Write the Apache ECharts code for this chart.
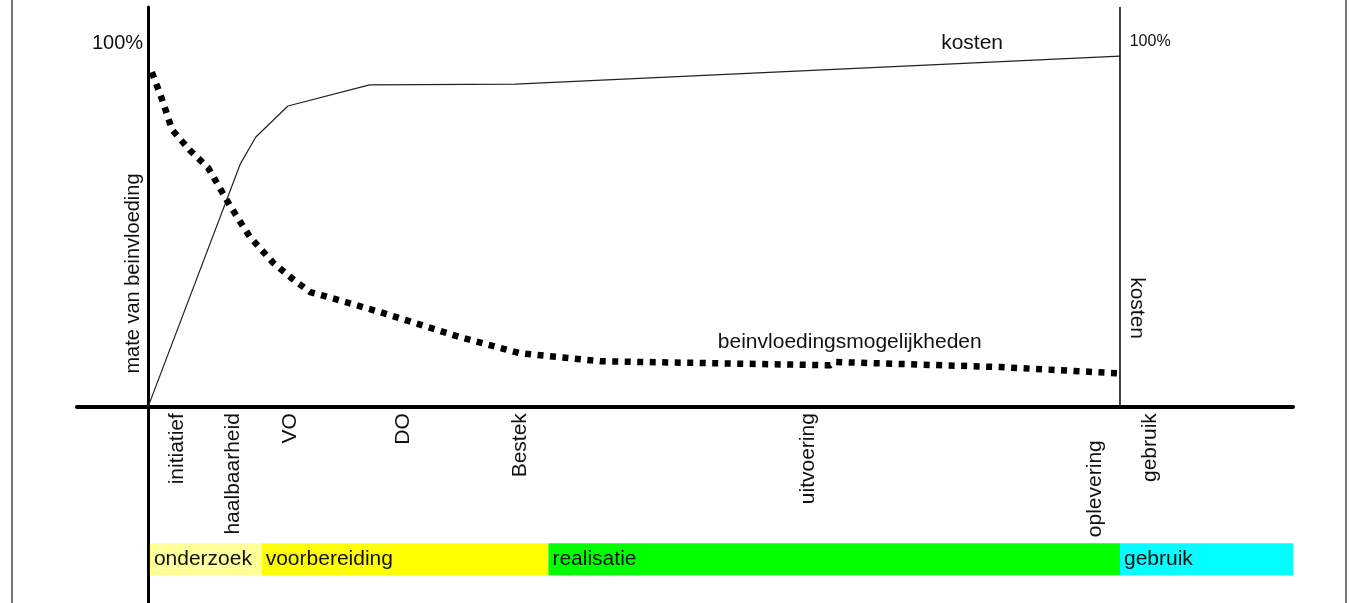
<!DOCTYPE html>
<html><head><meta charset="utf-8">
<script src="https://cdn.jsdelivr.net/npm/echarts@6/dist/echarts.min.js"></script>
<style>html,body{margin:0;padding:0;background:#fff}#c{width:1350px;height:603px}</style>
</head><body><div id="c"></div>
<script>
// ---- data (x: project progress, 0 = start, 100 = gebruik; y: percent) ----
const milestones = ['initiatief','haalbaarheid','VO','DO','Bestek','uitvoering','oplevering','gebruik'];
const milestoneX = [3.0, 8.8, 14.6, 26.3, 38.3, 67.9, 97.4, 103.1];
const costX = [0, 9.5, 11.1, 14.4, 22.8, 37.8, 100];
const costY = [0, 66.8, 74.2, 82.7, 88.5, 88.7, 96.4];
const influenceX = [0.4, 1.4, 2.5, 4.3, 6.2, 8.4, 10.5, 12.9, 15.3, 16.7, 19.0, 23.9, 32.1, 38.3, 46.5, 70.2, 70.7, 87.7, 99.7];
const influenceY = [92.0, 84.9, 76.1, 70.6, 65.7, 55.5, 46.7, 39.6, 34.3, 31.6, 29.9, 26.1, 19.2, 14.8, 12.6, 11.5, 12.4, 11.0, 9.3];
const phases = ['onderzoek','voorbereiding','realisatie','gebruik'];
const phaseStart = [0.2, 11.7, 41.2, 100];
const phaseEnd = [11.7, 41.2, 100, 117.8];

// ---- layout / style ----
const FONT = '"Liberation Sans", Arial, sans-serif';
const phaseColors = ['#FFFF99', '#FFFF00', '#00FF00', '#00FFFF'];
const BAR_TOP = -37.4, BAR_BOTTOM = -46.2;
const labelTop = [-1.65, -1.65, -1.65, -1.65, -1.65, -1.65, -9.1, -1.65];

function textSeries(items) {
  return {
    type: 'custom', z: 10, silent: true, clip: false,
    data: items.map(it => [it.x, it.y]),
    renderItem: function (params, api) {
      const it = items[params.dataIndex];
      const p = api.coord([api.value(0), api.value(1)]);
      return {
        type: 'text', x: p[0], y: p[1], rotation: it.rot || 0,
        style: {
          text: it.text, align: it.align || 'left', verticalAlign: it.va || 'middle',
          fill: '#111', font: (it.size || 21) + 'px ' + FONT
        }
      };
    }
  };
}

const annotations = [
  {text: '100%', x: -0.5, y: 100, align: 'right', size: 20},
  {text: '100%', x: 101.0, y: 100.3, align: 'left', size: 16},
  {text: 'kosten', x: 81.6, y: 100, align: 'left'},
  {text: 'beinvloedingsmogelijkheden', x: 72.2, y: 17.9, align: 'center'},
  {text: 'mate van beinvloeding', x: -1.5, y: 36.7, align: 'center', rot: Math.PI / 2, size: 20},
  {text: 'kosten', x: 101.7, y: 27.2, align: 'center', rot: -Math.PI / 2}
];
const milestoneItems = milestones.map((m, i) => ({
  text: m, x: milestoneX[i], y: labelTop[i], align: 'right', rot: Math.PI / 2
}));

const chart = echarts.init(document.getElementById('c'));
chart.setOption({
  animation: false,
  backgroundColor: '#fff',
  grid: {left: 77, right: 57, top: 7, bottom: 0, containLabel: false},
  xAxis: {
    type: 'value', min: -7.3, max: 117.8,
    axisLine: {show: true, onZero: true, lineStyle: {color: '#000', width: 4}},
    axisTick: {show: false}, axisLabel: {show: false}, splitLine: {show: false}
  },
  yAxis: {
    type: 'value', min: -53.8, max: 109.9,
    axisLine: {show: true, onZero: true, lineStyle: {color: '#000', width: 3}},
    axisTick: {show: false}, axisLabel: {show: false}, splitLine: {show: false}
  },
  graphic: [
    {type: 'line', shape: {x1: 12, y1: 0, x2: 12, y2: 603}, style: {stroke: '#444', lineWidth: 1.5}},
    {type: 'line', shape: {x1: 1346, y1: 0, x2: 1346, y2: 603}, style: {stroke: '#444', lineWidth: 1.5}}
  ],
  series: [
    {
      type: 'custom', z: 1, silent: true, clip: false,
      data: phases.map((p, i) => [phaseStart[i], phaseEnd[i], BAR_TOP, BAR_BOTTOM]),
      renderItem: function (params, api) {
        const a = api.coord([api.value(0), api.value(2)]);
        const b = api.coord([api.value(1), api.value(3)]);
        return {
          type: 'group', children: [
            {type: 'rect', shape: {x: a[0], y: a[1], width: b[0] - a[0], height: b[1] - a[1]},
             style: {fill: phaseColors[params.dataIndex]}},
            {type: 'text', x: a[0] + 4, y: (a[1] + b[1]) / 2,
             style: {text: phases[params.dataIndex], align: 'left', verticalAlign: 'middle',
                     fill: '#111', font: '21px ' + FONT}}
          ]
        };
      }
    },
    {
      type: 'line', name: 'kosten', z: 3, silent: true, symbol: 'none',
      data: costX.map((x, i) => [x, costY[i]]),
      lineStyle: {color: '#222', width: 1.2}
    },
    {
      type: 'line', name: 'beinvloedingsmogelijkheden', z: 4, silent: true, symbol: 'none',
      data: influenceX.map((x, i) => [x, influenceY[i]]),
      lineStyle: {color: '#000', width: 6.5, type: [6, 6.5], cap: 'butt'}
    },
    {
      type: 'line', z: 3, silent: true, symbol: 'none',
      data: [[100, 0], [100, 109.9]],
      lineStyle: {color: '#000', width: 1.5}
    },
    textSeries(annotations),
    textSeries(milestoneItems)
  ]
});
</script></body></html>
